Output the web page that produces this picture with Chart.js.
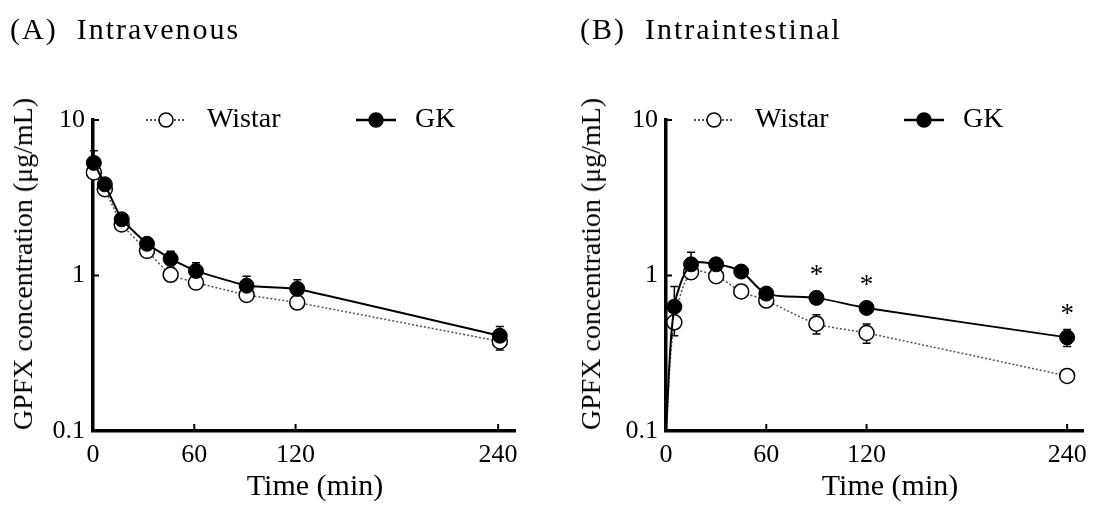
<!DOCTYPE html>
<html>
<head>
<meta charset="utf-8">
<script src="https://cdn.jsdelivr.net/npm/chart.js@4.4.1/dist/chart.umd.min.js"></script>
<style>
  body { margin: 0; background: #fff; }
  #wrap { position: relative; width: 1096px; height: 510px; font-family: "Liberation Serif", "Times New Roman", serif; color: #000; }
  canvas { position: absolute; top: 0; }
  .lbl { position: absolute; white-space: pre; line-height: 1; }
  .panel { font-size: 30px; letter-spacing: 2px; }
  .xt { font-size: 30px; transform: translateX(-50%); }
  .yt { font-size: 28px; transform: translate(-50%, -50%) rotate(-90deg); }
</style>
</head>
<body>
<div id="wrap">
  <canvas id="chartA" width="548" height="510" style="left:0"></canvas>
  <canvas id="chartB" width="548" height="510" style="left:548px"></canvas>
  <div class="lbl panel" style="left:10px; top:14px">(A)  Intravenous</div>
  <div class="lbl panel" style="left:580px; top:14px">(B)  Intraintestinal</div>
  <div class="lbl yt" style="left:23px; top:264px">GPFX concentration (μg/mL)</div>
  <div class="lbl yt" style="left:591px; top:264px">GPFX concentration (μg/mL)</div>
  <div class="lbl xt" style="left:315px; top:470px">Time (min)</div>
  <div class="lbl xt" style="left:890px; top:470px">Time (min)</div>
</div>
<script>
const seriesNames = ['Wistar', 'GK'];
const xTicks = [0, 60, 120, 240];
const yTicks = [0.1, 1, 10];

// (A) intravenous
const timesA = [0.5, 7, 17, 32, 46, 61, 91, 121, 241];
const wistarA = [4.6, 3.59, 2.13, 1.44, 1.01, 0.90, 0.75, 0.67, 0.377];
const gkA = [5.3, 3.86, 2.30, 1.60, 1.28, 1.07, 0.86, 0.82, 0.41];
const wistarSdA = [0.3, 0.2, 0.1, 0.08, 0.06, 0.05, 0.05, 0.04, 0.045];
const gkSdA = [1.05, 0.3, 0.15, 0.12, 0.15, 0.14, 0.13, 0.12, 0.06];

// (B) intraintestinal, t=0 sits on the axis floor
const timesB = [0, 5, 15, 30, 45, 60, 90, 120, 240];
const wistarB = [0.1, 0.50, 1.05, 0.99, 0.79, 0.69, 0.49, 0.427, 0.226];
const gkB = [0.1, 0.63, 1.18, 1.18, 1.06, 0.765, 0.718, 0.619, 0.40];
const wistarSdB = [0, 0.03, 0.08, 0.05, 0.05, 0.05, 0.07, 0.06, 0.02];
const gkSdB = [0, 0.22, 0.23, 0.08, 0.06, 0.05, 0.04, 0.04, 0.05];
const sigB = [90, 120, 240];

const serif = '"Liberation Serif", "Times New Roman", serif';

const errorBars = {
  id: 'errorBars',
  beforeDatasetsDraw(chart) {
    const ctx = chart.ctx, y = chart.scales.y;
    ctx.save();
    ctx.strokeStyle = '#000';
    ctx.lineWidth = 1.5;
    chart.data.datasets.forEach((ds, i) => {
      chart.getDatasetMeta(i).data.forEach((pt, j) => {
        const sd = ds.sd[j];
        if (!sd) return;
        const v = ds.data[j].y;
        const top = y.getPixelForValue(v + sd);
        const bot = y.getPixelForValue(Math.max(v - sd, 0.1));
        ctx.beginPath();
        ctx.moveTo(pt.x, top); ctx.lineTo(pt.x, bot);
        ctx.moveTo(pt.x - 4, top); ctx.lineTo(pt.x + 4, top);
        ctx.moveTo(pt.x - 4, bot); ctx.lineTo(pt.x + 4, bot);
        ctx.stroke();
      });
    });
    ctx.restore();
  }
};

const innerTicks = {
  id: 'innerTicks',
  afterDraw(chart) {
    const {ctx, chartArea: a, scales: {x, y}} = chart;
    ctx.save();
    ctx.strokeStyle = '#000';
    ctx.lineWidth = 2;
    ctx.beginPath();
    xTicks.slice(1).forEach(t => {
      const px = x.getPixelForValue(t);
      ctx.moveTo(px, a.bottom); ctx.lineTo(px, a.bottom - 7);
    });
    yTicks.forEach(v => {
      const py = y.getPixelForValue(v);
      ctx.moveTo(a.left, py); ctx.lineTo(a.left + 6, py);
    });
    ctx.stroke();
    ctx.restore();
  }
};

const legendIn = {
  id: 'legendIn',
  afterDraw(chart, args, opts) {
    const ctx = chart.ctx;
    chart.data.datasets.forEach((ds, i) => {
      const cx = opts.marks[i], y = opts.y;
      ctx.save();
      ctx.strokeStyle = ds.borderColor;
      ctx.lineWidth = ds.borderWidth + 0.5;
      ctx.setLineDash(ds.borderDash || []);
      ctx.beginPath();
      ctx.moveTo(cx - 20, y); ctx.lineTo(cx + 20, y);
      ctx.stroke();
      ctx.setLineDash([]);
      ctx.beginPath();
      ctx.arc(cx, y, 7, 0, Math.PI * 2);
      ctx.fillStyle = ds.pointBackgroundColor;
      ctx.fill();
      ctx.lineWidth = 1.5;
      ctx.strokeStyle = '#000';
      ctx.stroke();
      ctx.fillStyle = '#000';
      ctx.font = '28px ' + serif;
      ctx.textBaseline = 'middle';
      ctx.fillText(ds.label, opts.texts[i], y);
      ctx.restore();
    });
  }
};

const sigStars = {
  id: 'sigStars',
  afterDatasetsDraw(chart, args, opts) {
    if (!opts.times || !opts.times.length) return;
    const {ctx, scales: {x, y}} = chart;
    const ds = chart.data.datasets[1];
    ctx.save();
    ctx.font = '27px ' + serif;
    ctx.textAlign = 'center';
    ctx.textBaseline = 'alphabetic';
    ctx.fillStyle = '#000';
    opts.times.forEach(t => {
      const p = ds.data.find(d => d.x === t);
      ctx.fillText('*', x.getPixelForValue(t), y.getPixelForValue(p.y) - 15);
    });
    ctx.restore();
  }
};

function makeChart(id, times, wistar, gk, wSd, gSd, sig, yWidth, padRight, tension) {
  const radius = times.map(t => t === 0 ? 0 : 7.5);
  return new Chart(document.getElementById(id), {
    type: 'line',
    data: {
      datasets: [{
        label: seriesNames[0],
        data: times.map((t, i) => ({x: t, y: wistar[i]})),
        sd: wSd,
        order: 1,
        borderColor: '#555',
        borderWidth: 1.5,
        borderDash: [2, 2],
        pointRadius: radius,
        pointBackgroundColor: '#fff',
        pointBorderColor: '#000',
        pointBorderWidth: 1.5,
        tension: tension,
        clip: false
      }, {
        label: seriesNames[1],
        data: times.map((t, i) => ({x: t, y: gk[i]})),
        sd: gSd,
        order: 0,
        borderColor: '#000',
        borderWidth: 2,
        pointRadius: radius,
        pointBackgroundColor: '#000',
        pointBorderColor: '#000',
        pointBorderWidth: 1,
        tension: tension,
        clip: false
      }]
    },
    options: {
      responsive: false,
      animation: false,
      devicePixelRatio: 1,
      layout: {padding: {left: 0, top: 120, right: padRight, bottom: 0}},
      plugins: {
        legend: {display: false},
        tooltip: {enabled: false},
        legendIn: {y: 120, marks: [166, 376], texts: [207, 415]},
        sigStars: {times: sig}
      },
      scales: {
        x: {
          type: 'linear',
          min: 0,
          max: 250,
          afterBuildTicks: s => { s.ticks = xTicks.map(v => ({value: v})); },
          afterFit: s => { s.height = 79; },
          grid: {display: true, drawOnChartArea: false, drawTicks: false},
          border: {display: true, color: '#000', width: 3.5},
          ticks: {color: '#000', padding: 9, maxRotation: 0, font: {family: serif, size: 26}}
        },
        y: {
          type: 'logarithmic',
          min: 0.1,
          max: 10,
          afterBuildTicks: s => { s.ticks = yTicks.map(v => ({value: v})); },
          afterFit: s => { s.width = yWidth; },
          grid: {display: true, drawOnChartArea: false, drawTicks: false},
          border: {display: true, color: '#000', width: 3.5},
          ticks: {color: '#000', padding: 8, font: {family: serif, size: 26}, callback: v => String(v)}
        }
      }
    },
    plugins: [errorBars, innerTicks, legendIn, sigStars]
  });
}

makeChart('chartA', timesA, wistarA, gkA, wistarSdA, gkSdA, [], 93, 33, 0.1);
makeChart('chartB', timesB, wistarB, gkB, wistarSdB, gkSdB, sigB, 118, 8, 0.3);
</script>
</body>
</html>
